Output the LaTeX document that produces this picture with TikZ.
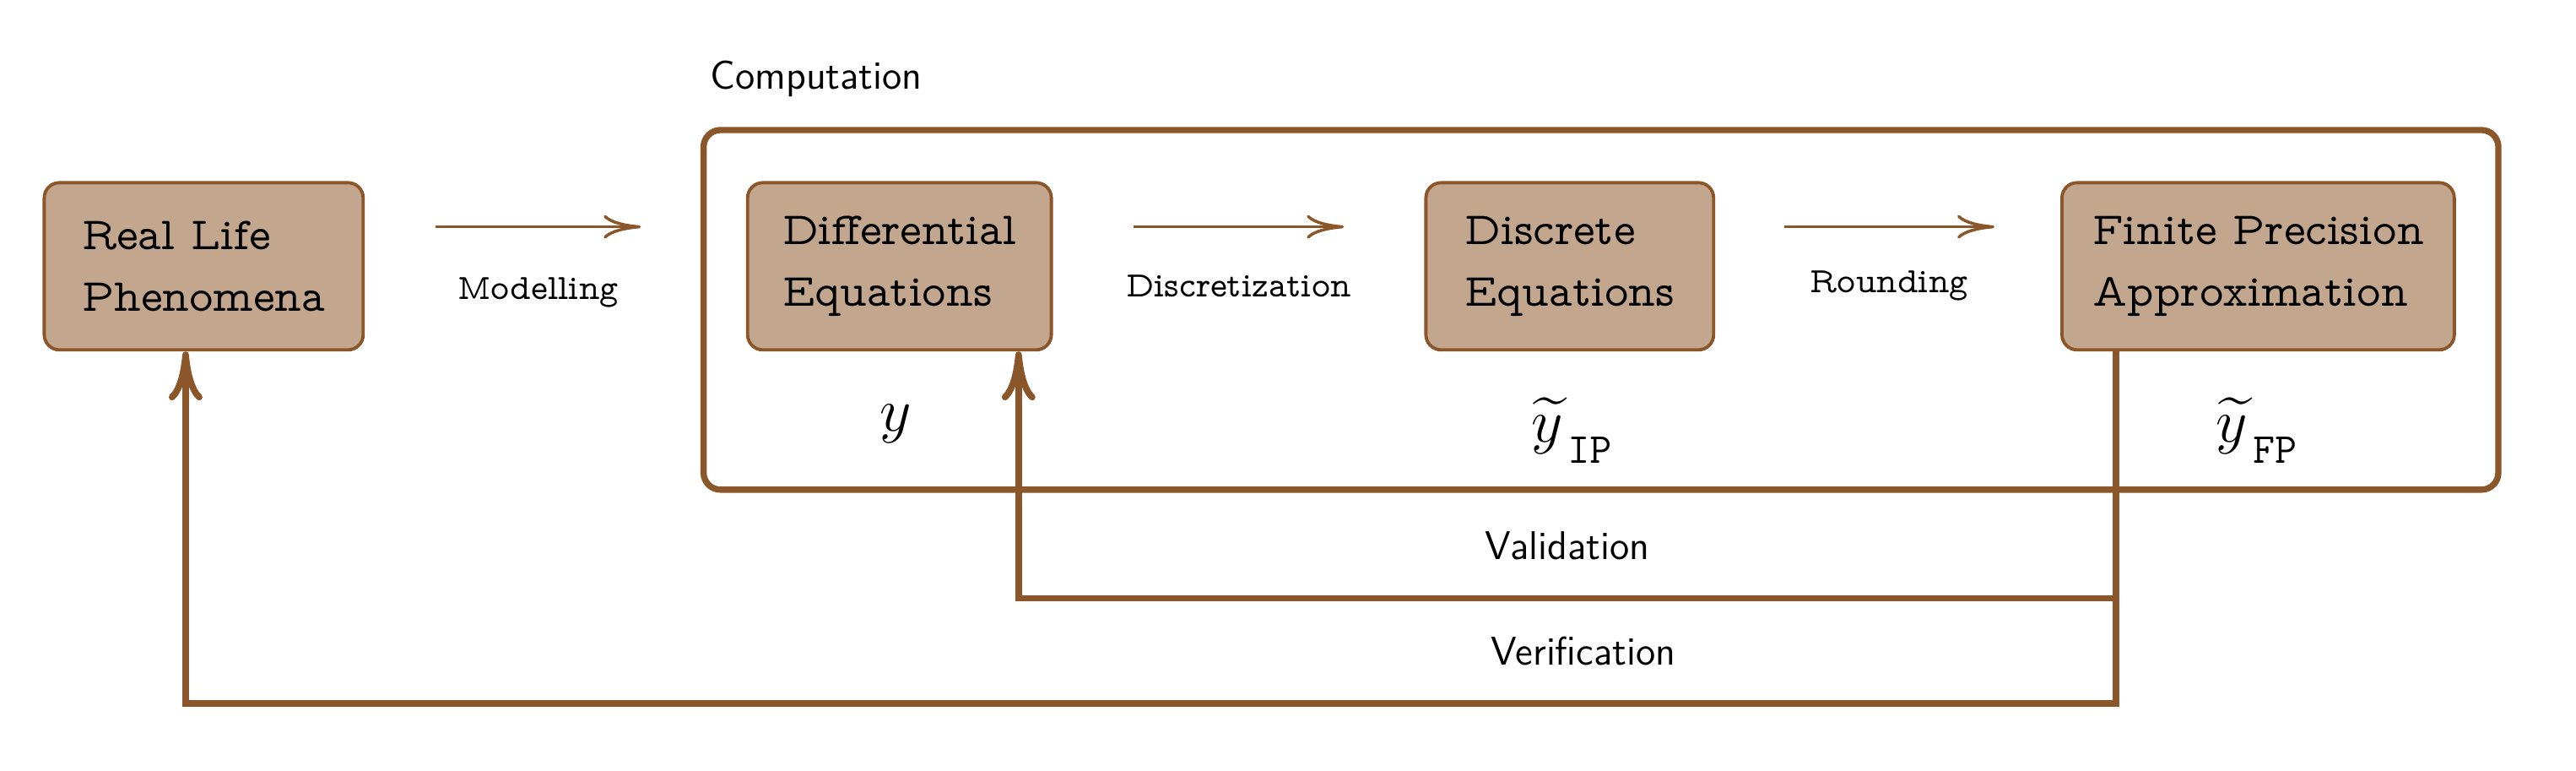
\documentclass[tikz,border=0pt]{standalone}
\usepackage{amsmath}
\usepackage{xcolor}
\usetikzlibrary{arrows.meta,positioning,calc}
\definecolor{barkbrown}{HTML}{8B572A}
\definecolor{sandfill}{HTML}{C2A68E}
\newcommand{\propfont}{\fontfamily{lmvtt}\selectfont}
\newcommand{\lowsub}[1]{_{\,\raisebox{-0.45ex}{$\scriptstyle\mathtt{#1}$}}}
\tikzset{
  stagebox/.style={draw=barkbrown,fill=sandfill,line width=1.1pt,rounded corners=0.18cm,
    align=left,minimum height=1.98cm,font=\propfont\fontsize{15.5}{21}\selectfont},
  compframe/.style={draw=barkbrown,line width=2.1pt,rounded corners=0.2cm,
    minimum width=21.27cm,minimum height=4.26cm},
  steparrow/.style={-{Computer Modern Rightarrow[length=4.4mm,width=2.8mm]},draw=barkbrown,line width=1pt},
  backarrow/.style={-{Computer Modern Rightarrow[length=5.8mm,width=4mm]},draw=barkbrown,line width=2.2pt},
  steplabel/.style={font=\propfont\fontsize{12}{14}\selectfont},
  sidelabel/.style={font=\sffamily\fontsize{13.5}{16}\selectfont},
  quantity/.style={font=\fontsize{21}{25}\selectfont}
}
\begin{document}
\begin{tikzpicture}[x=0.019464cm,y=-0.019464cm]
  \useasboundingbox (0,0) rectangle (1568,469);
  % stages
  \node[stagebox,minimum width=3.78cm] (real) at (124,162) {Real Life\\Phenomena};
  \node[compframe] (comp) at (974.5,188.5) {};
  \node[sidelabel,anchor=west] (complabel) at (426,48) {Computation};
  \node[stagebox,minimum width=3.60cm] (diff) at (547.5,162) {Differential\\Equations};
  \node[stagebox,minimum width=3.41cm] (disc) at (955.5,162) {Discrete\\Equations};
  \node[stagebox,minimum width=4.65cm] (fp) at (1374.5,162) {Finite Precision\\Approximation};
  % results
  \node[quantity] (yexact) at (545,258) {$y$};
  \node[quantity] (yip) at (957,262) {${\widetilde{y}}\lowsub{IP}$};
  \node[quantity] (yfp) at (1374,262) {${\widetilde{y}}\lowsub{FP}$};
  % forward steps
  \coordinate (modA) at (265,138);
  \coordinate (modB) at (390,138);
  \coordinate (disA) at (690,138);
  \coordinate (disB) at (818,138);
  \coordinate (rndA) at (1086,138);
  \coordinate (rndB) at (1214,138);
  \draw[steparrow] (modA) -- (modB) node[midway,steplabel,yshift=-0.78cm] {Modelling};
  \draw[steparrow] (disA) -- (disB) node[midway,steplabel,yshift=-0.70cm] {Discretization};
  \draw[steparrow] (rndA) -- (rndB) node[midway,steplabel,yshift=-0.70cm] {Rounding};
  % checks
  \coordinate (tap) at (1288,0);
  \coordinate (valx) at (620,0);
  \coordinate (verx) at (113,0);
  \coordinate (valy) at (0,364);
  \coordinate (very) at (0,428);
  \draw[backarrow] (fp.south -| tap) |- (valx |- valy)
    node[pos=0.75,sidelabel,yshift=0.62cm] {Validation} -- (diff.south -| valx);
  \draw[backarrow] (fp.south -| tap) |- (verx |- very)
    node[pos=0.638,sidelabel,yshift=0.62cm] {Verification} -- (real.south -| verx);
\end{tikzpicture}
\end{document}
